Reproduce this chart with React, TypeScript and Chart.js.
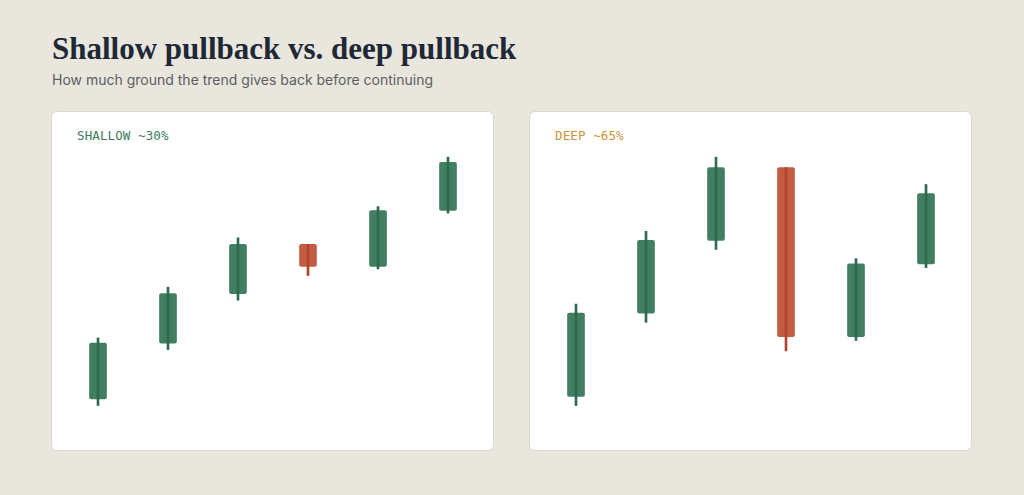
import { useEffect, useRef } from "react";
import { Chart, registerables } from "chart.js";

Chart.register(...registerables);

const sessions = ["D1", "D2", "D3", "D4", "D5", "D6"];

const shallowOpen = [5, 26.5, 45.5, 64.5, 56, 77.5];
const shallowClose = [26.5, 45.5, 64.5, 56, 77.5, 96];
const shallowHigh = [28.5, 48, 67, 64.5, 79, 98];
const shallowLow = [2.5, 24, 43, 52.5, 55, 76.5];

const deepOpen = [6, 38, 66, 94, 29, 57];
const deepClose = [38, 66, 94, 29, 57, 84];
const deepHigh = [41.5, 69.5, 98, 94, 59, 87.5];
const deepLow = [2.5, 34.5, 62.5, 23.5, 27.5, 55.5];

const UP = "rgba(52, 116, 86, 0.93)";
const DOWN = "rgba(190, 80, 52, 0.93)";
const UP_WICK = "#2f6a4f";
const DOWN_WICK = "#b0452c";

interface CandlePanelProps {
  label: string;
  labelColor: string;
  open: number[];
  close: number[];
  high: number[];
  low: number[];
}

function CandlePanel({ label, labelColor, open, close, high, low }: CandlePanelProps) {
  const canvasRef = useRef<HTMLCanvasElement>(null);
  const chartRef = useRef<Chart | null>(null);

  useEffect(() => {
    if (!canvasRef.current) return;
    if (chartRef.current) chartRef.current.destroy();

    const isUp = open.map((o, i) => close[i] >= o);

    chartRef.current = new Chart(canvasRef.current, {
      type: "bar",
      data: {
        labels: sessions,
        datasets: [
          {
            // wick
            data: sessions.map((_, i) => [low[i], high[i]]) as any,
            backgroundColor: isUp.map((u) => (u ? UP_WICK : DOWN_WICK)),
            barThickness: 2,
            grouped: false,
            order: 1,
          },
          {
            // body
            data: sessions.map((_, i) => [open[i], close[i]]) as any,
            backgroundColor: isUp.map((u) => (u ? UP : DOWN)),
            barThickness: 17,
            borderRadius: 2,
            borderSkipped: false,
            grouped: false,
            order: 2,
          },
        ],
      },
      options: {
        responsive: true,
        maintainAspectRatio: false,
        animation: false,
        layout: { padding: { left: 11, right: 10, top: 40, bottom: 38 } },
        plugins: {
          legend: { display: false },
          tooltip: { enabled: false },
        },
        scales: {
          x: { display: false, offset: true },
          y: { display: false, min: 0, max: 100 },
        },
      },
    });

    return () => {
      if (chartRef.current) {
        chartRef.current.destroy();
        chartRef.current = null;
      }
    };
  }, [open, close, high, low]);

  return (
    <div
      style={{
        position: "relative",
        width: 441,
        height: 338,
        background: "#ffffff",
        border: "1px solid #dcd8cb",
        borderRadius: 6,
      }}
    >
      <div
        style={{
          position: "absolute",
          left: 25,
          top: 16,
          fontFamily: "'DejaVu Sans Mono', monospace",
          fontSize: 12.5,
          color: labelColor,
          letterSpacing: 0.1,
        }}
      >
        {label}
      </div>
      <div style={{ position: "absolute", left: 0, top: 0, width: 441, height: 338 }}>
        <canvas ref={canvasRef} />
      </div>
    </div>
  );
}

export default function App() {
  return (
    <div
      style={{
        position: "fixed",
        inset: 0,
        background: "#e9e6dd",
        overflow: "hidden",
      }}
    >
      <div
        style={{
          position: "absolute",
          left: 52,
          top: 31,
          fontFamily: "'Liberation Serif', 'DejaVu Serif', serif",
          fontWeight: 700,
          fontSize: 31,
          color: "#1e2836",
          whiteSpace: "nowrap",
        }}
      >
        Shallow pullback vs. deep pullback
      </div>
      <div
        style={{
          position: "absolute",
          left: 52,
          top: 71,
          fontFamily: "Inter, sans-serif",
          fontSize: 14,
          color: "#5b5e63",
          whiteSpace: "nowrap",
        }}
      >
        How much ground the trend gives back before continuing
      </div>
      <div style={{ position: "absolute", left: 51, top: 111 }}>
        <CandlePanel
          label="SHALLOW ~30%"
          labelColor="#3d7a5e"
          open={shallowOpen}
          close={shallowClose}
          high={shallowHigh}
          low={shallowLow}
        />
      </div>
      <div style={{ position: "absolute", left: 529, top: 111 }}>
        <CandlePanel
          label="DEEP ~65%"
          labelColor="#c9943c"
          open={deepOpen}
          close={deepClose}
          high={deepHigh}
          low={deepLow}
        />
      </div>
    </div>
  );
}
